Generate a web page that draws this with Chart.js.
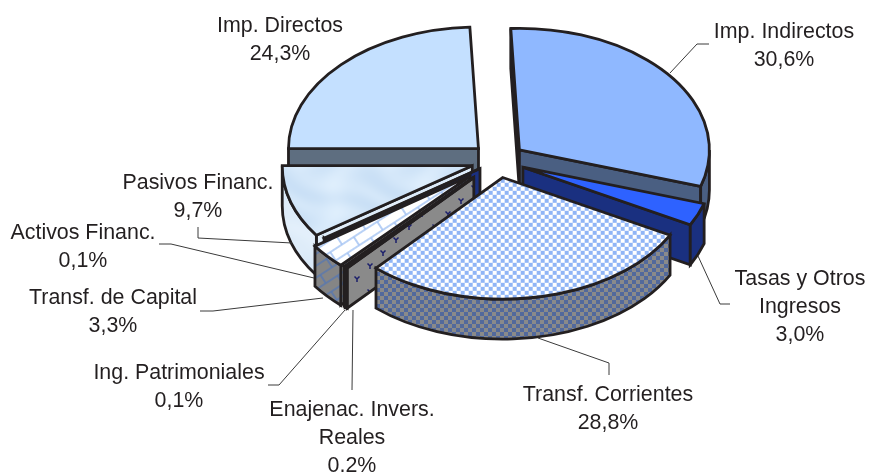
<!DOCTYPE html>
<html>
<head>
<meta charset="utf-8">
<style>html,body{margin:0;padding:0;background:#fff}canvas{display:block}</style>
<script src="https://cdn.jsdelivr.net/npm/chart.js@4/dist/chart.umd.min.js"></script>
</head>
<body>
<canvas id="c" width="870" height="472"></canvas>
<script>
// ---------- data ----------
const categories = [
  ["Imp. Indirectos"],
  ["Tasas y Otros", "Ingresos"],
  ["Transf. Corrientes"],
  ["Enajenac. Invers.", "Reales"],
  ["Ing. Patrimoniales"],
  ["Transf. de Capital"],
  ["Activos Financ."],
  ["Pasivos Financ."],
  ["Imp. Directos"]
];
const shares = [30.6, 3.0, 28.8, 0.2, 0.1, 3.3, 0.1, 9.7, 24.3];

// ---------- layout / style ----------
const TILT = 0.64, DEPTH = 40, RADIUS = 190, ROTATION = -2.6;
const explode = [27, 27, 27, 36, 36, 37, 22, 27, 27];
const paintOrder = [8, 0, 1, 7, 6, 5, 4, 3, 2];
const INK = "#231f20";
const labelAnchors = [[784,32],[800,279],[608,395],[352,410],[179,373],[113,298],[83,233],[198,183],[280,26]];
const leaders = [
  [[670,73],[697,44],[709,44]],
  [[698,256],[720,304],[730,304]],
  [[538,338],[609,363],[609,375]],
  [[353,310],[352,390]],
  [[345,310],[279,385],[268,385]],
  [[323,298],[213,311],[200,311]],
  [[314,278],[171,244],[159,244]],
  [[292,243],[198,238],[198,227]]
];

// ---------- textures ----------
function tile(w, h, paint) {
  const t = document.createElement("canvas");
  t.width = w; t.height = h;
  paint(t.getContext("2d"), w, h);
  return t;
}
const ctx0 = document.getElementById("c").getContext("2d");
function pattern(t, m) {
  const p = ctx0.createPattern(t, "repeat");
  if (m) p.setTransform(m);
  return p;
}
const checkerTile = (a, b) => tile(8, 8, (g) => {
  g.fillStyle = a; g.fillRect(0, 0, 8, 8);
  g.fillStyle = b; g.fillRect(0, 0, 4, 4); g.fillRect(4, 4, 4, 4);
});
const brickTile = (bg, line) => tile(28, 20, (g) => {
  g.fillStyle = bg; g.fillRect(0, 0, 28, 20);
  g.strokeStyle = line; g.lineWidth = 1.6; g.beginPath();
  g.moveTo(0, 5); g.lineTo(28, 5); g.moveTo(0, 15); g.lineTo(28, 15);
  g.moveTo(7, 5); g.lineTo(7, 15); g.moveTo(21, 15); g.lineTo(21, 20); g.moveTo(21, 0); g.lineTo(21, 5);
  g.stroke();
});
const trident = tile(26, 26, (g) => {
  g.fillStyle = "#8a8a8a"; g.fillRect(0, 0, 26, 26);
  g.strokeStyle = "#1b1f6b"; g.lineWidth = 1.5;
  [[6, 6], [19, 19]].forEach(([x, y]) => {
    g.beginPath();
    g.moveTo(x - 2.5, y - 2.5); g.lineTo(x, y); g.lineTo(x + 2.5, y - 2.5);
    g.moveTo(x, y); g.lineTo(x, y + 3);
    g.stroke();
  });
});
const marble = (r0, g0, b0, amp) => tile(180, 180, (g, w, h) => {
  const im = g.createImageData(w, h);
  const u = Math.PI * 2 / w;
  for (let y = 0; y < h; y++) for (let x = 0; x < w; x++) {
    const n = Math.sin(2*u*x + 2*Math.sin(2*u*y)) * Math.cos(3*u*y + Math.sin(2*u*x));
    const i = (y*w + x)*4;
    im.data[i] = r0 + n*amp; im.data[i+1] = g0 + n*amp*0.7; im.data[i+2] = b0 + n*amp*0.35; im.data[i+3] = 255;
  }
  g.putImageData(im, 0, 0);
});
const flat = new DOMMatrix().scale(1, 1 / TILT);
const slant = new DOMMatrix().rotate(-33);

const topFills = [
  "#8fb8ff",
  "#2e62ff",
  pattern(checkerTile("#ffffff", "#90b5f6"), flat),
  "#3a3a3a",
  "#3a3a3a",
  pattern(brickTile("#ffffff", "#a4c3f3"), new DOMMatrix().scale(1, 1 / TILT).rotate(-33)),
  "#e6f1fb",
  pattern(marble(212, 231, 249, 10), flat),
  "#c4e0ff"
];
const wallFills = [
  "#4a5f82",
  "#1a3080",
  pattern(checkerTile("#8a8a8a", "#52699c")),
  pattern(trident),
  pattern(trident),
  pattern(brickTile("#858585", "#5a78ae"), slant),
  "#1a3080",
  pattern(marble(222, 236, 249, 5)),
  "#5e6e80"
];

// ---------- 3D painter, working from the library's arc elements ----------
const pie3d = {
  id: "pie3d",
  beforeDatasetDraw() { return false; },
  afterDatasetsDraw(chart) {
    const ctx = chart.ctx;
    const arcs = chart.getDatasetMeta(0).data;
    paintOrder.forEach((i) => {
      const el = arcs[i];
      const a1 = el.startAngle, a2 = el.endAngle, R = el.outerRadius;
      const mid = (a1 + a2) / 2;
      const ox = el.x + Math.cos(mid) * explode[i];
      const oy = el.y + Math.sin(mid) * explode[i] * TILT;
      const px = (a) => ox + R * Math.cos(a);
      const py = (a) => oy + R * TILT * Math.sin(a);

      ctx.save();
      ctx.lineWidth = 2.8;
      ctx.lineJoin = "miter";
      ctx.miterLimit = 3;
      ctx.strokeStyle = INK;
      ctx.fillStyle = wallFills[i];

      const quad = (a) => {
        ctx.beginPath();
        ctx.moveTo(ox, oy);
        ctx.lineTo(px(a), py(a));
        ctx.lineTo(px(a), py(a) + DEPTH);
        ctx.lineTo(ox, oy + DEPTH);
        ctx.closePath();
        ctx.fill(); ctx.stroke();
      };
      if (-Math.cos(a1) > 0) quad(a1);
      if (Math.cos(a2) > 0) quad(a2);

      // outer curved wall, front half only
      const norm = (a) => { const t = Math.PI * 2; return ((a % t) + t) % t; };
      let s = norm(a1), e = s + (a2 - a1);
      const spans = [[s, e], [s - Math.PI * 2, e - Math.PI * 2]];
      spans.forEach(([u, v]) => {
        const b1 = Math.max(u, 0), b2 = Math.min(v, Math.PI);
        if (b2 <= b1) return;
        ctx.beginPath();
        ctx.ellipse(ox, oy, R, R * TILT, 0, b1, b2);
        ctx.lineTo(px(b2), py(b2) + DEPTH);
        ctx.ellipse(ox, oy + DEPTH, R, R * TILT, 0, b2, b1, true);
        ctx.closePath();
        ctx.fill(); ctx.stroke();
      });

      // top face: the library draws the arc, squashed and pulled out
      ctx.save();
      ctx.translate(ox, oy);
      ctx.scale(1, TILT);
      ctx.translate(-el.x, -el.y);
      el.draw(ctx);
      ctx.restore();

      ctx.beginPath();
      ctx.moveTo(ox, oy);
      ctx.lineTo(px(a1), py(a1));
      ctx.ellipse(ox, oy, R, R * TILT, 0, a1, a2);
      ctx.closePath();
      ctx.stroke();
      ctx.restore();
    });

    // leader lines
    ctx.save();
    ctx.strokeStyle = "#3a3a3a";
    ctx.lineWidth = 1;
    leaders.forEach((pts) => {
      ctx.beginPath();
      pts.forEach(([x, y], k) => k ? ctx.lineTo(x, y) : ctx.moveTo(x, y));
      ctx.stroke();
    });
    // labels
    ctx.fillStyle = INK;
    ctx.font = '21.4px "Liberation Sans", Arial, sans-serif';
    ctx.textAlign = "center";
    ctx.textBaseline = "middle";
    categories.forEach((lines, i) => {
      const [x, y] = labelAnchors[i];
      const all = lines.concat(shares[i].toFixed(1).replace(".", ",") + "%");
      all.forEach((t, k) => ctx.fillText(t, x, y + k * 28));
    });
    ctx.restore();
  }
};

new Chart(document.getElementById("c"), {
  type: "pie",
  data: {
    labels: categories.map((l) => l.join(" ")),
    datasets: [{
      data: shares,
      backgroundColor: topFills,
      borderWidth: 0,
      radius: RADIUS,
      rotation: ROTATION
    }]
  },
  options: {
    responsive: false,
    animation: false,
    events: [],
    layout: { padding: { left: 126, bottom: 151 } },
    plugins: { legend: { display: false }, tooltip: { enabled: false } }
  },
  plugins: [pie3d]
});
</script>
</body>
</html>
